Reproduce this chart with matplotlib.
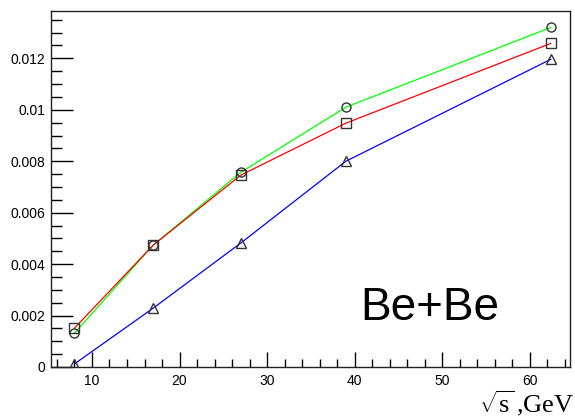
import matplotlib
matplotlib.use("Agg")
import matplotlib.pyplot as plt
from matplotlib.ticker import MultipleLocator, FuncFormatter

plt.rcParams['font.family'] = ['Liberation Sans', 'DejaVu Sans']
plt.rcParams['mathtext.fontset'] = 'custom'
plt.rcParams['mathtext.rm'] = 'Liberation Serif'

energies = [8.0, 17.0, 27.0, 39.0, 62.4]
circles_green = [0.00132, 0.00474, 0.00757, 0.01010, 0.01320]
squares_red = [0.00151, 0.00474, 0.00746, 0.00948, 0.01258]
triangles_blue = [0.00012, 0.00229, 0.00482, 0.00800, 0.01196]

fig = plt.figure(figsize=(5.75, 4.2), dpi=100)
ax = fig.add_axes([51/575, 53/420, (570-51)/575, (367-10.5)/420])

series = [
    (circles_green, '#00ff00', 'o'),
    (squares_red, '#ff0000', 's'),
    (triangles_blue, '#0000ff', '^'),
]
for vals, col, mk in series:
    ax.plot(energies, vals, color=col, lw=0.9, zorder=2)
for vals, col, mk in series:
    ax.plot(energies, vals, linestyle='none', marker=mk, markersize=6.5,
            markerfacecolor='none', markeredgecolor='#333333', markeredgewidth=1.0, zorder=3)

ax.set_xlim(5.32, 64.6)
ax.set_ylim(0, 0.01386)

ax.xaxis.set_major_locator(MultipleLocator(10))
ax.xaxis.set_minor_locator(MultipleLocator(2))
ax.yaxis.set_major_locator(MultipleLocator(0.002))
ax.yaxis.set_minor_locator(MultipleLocator(0.0005))
ax.yaxis.set_major_formatter(FuncFormatter(lambda v, p: '%g' % round(v, 6)))

ax.tick_params(axis='both', which='both', direction='in', top=False, right=False,
               labelsize=10, width=1, color='black')
ax.tick_params(axis='x', which='major', length=11, pad=5)
ax.tick_params(axis='x', which='minor', length=5.5)
ax.tick_params(axis='y', which='major', length=15.5, pad=4)
ax.tick_params(axis='y', which='minor', length=8)
for s in ax.spines.values():
    s.set_linewidth(1.0)
    s.set_color('#222222')

ax.text(0.595, 0.165, 'Be+Be', transform=ax.transAxes, fontsize=33,
        ha='left', va='center', color='black')

fig.text(574/575, 2/420, r'$\sqrt{\mathrm{s}}\,$,GeV', ha='right', va='bottom',
         fontsize=19, family='Liberation Serif')

fig.savefig('out.png', dpi=100)
